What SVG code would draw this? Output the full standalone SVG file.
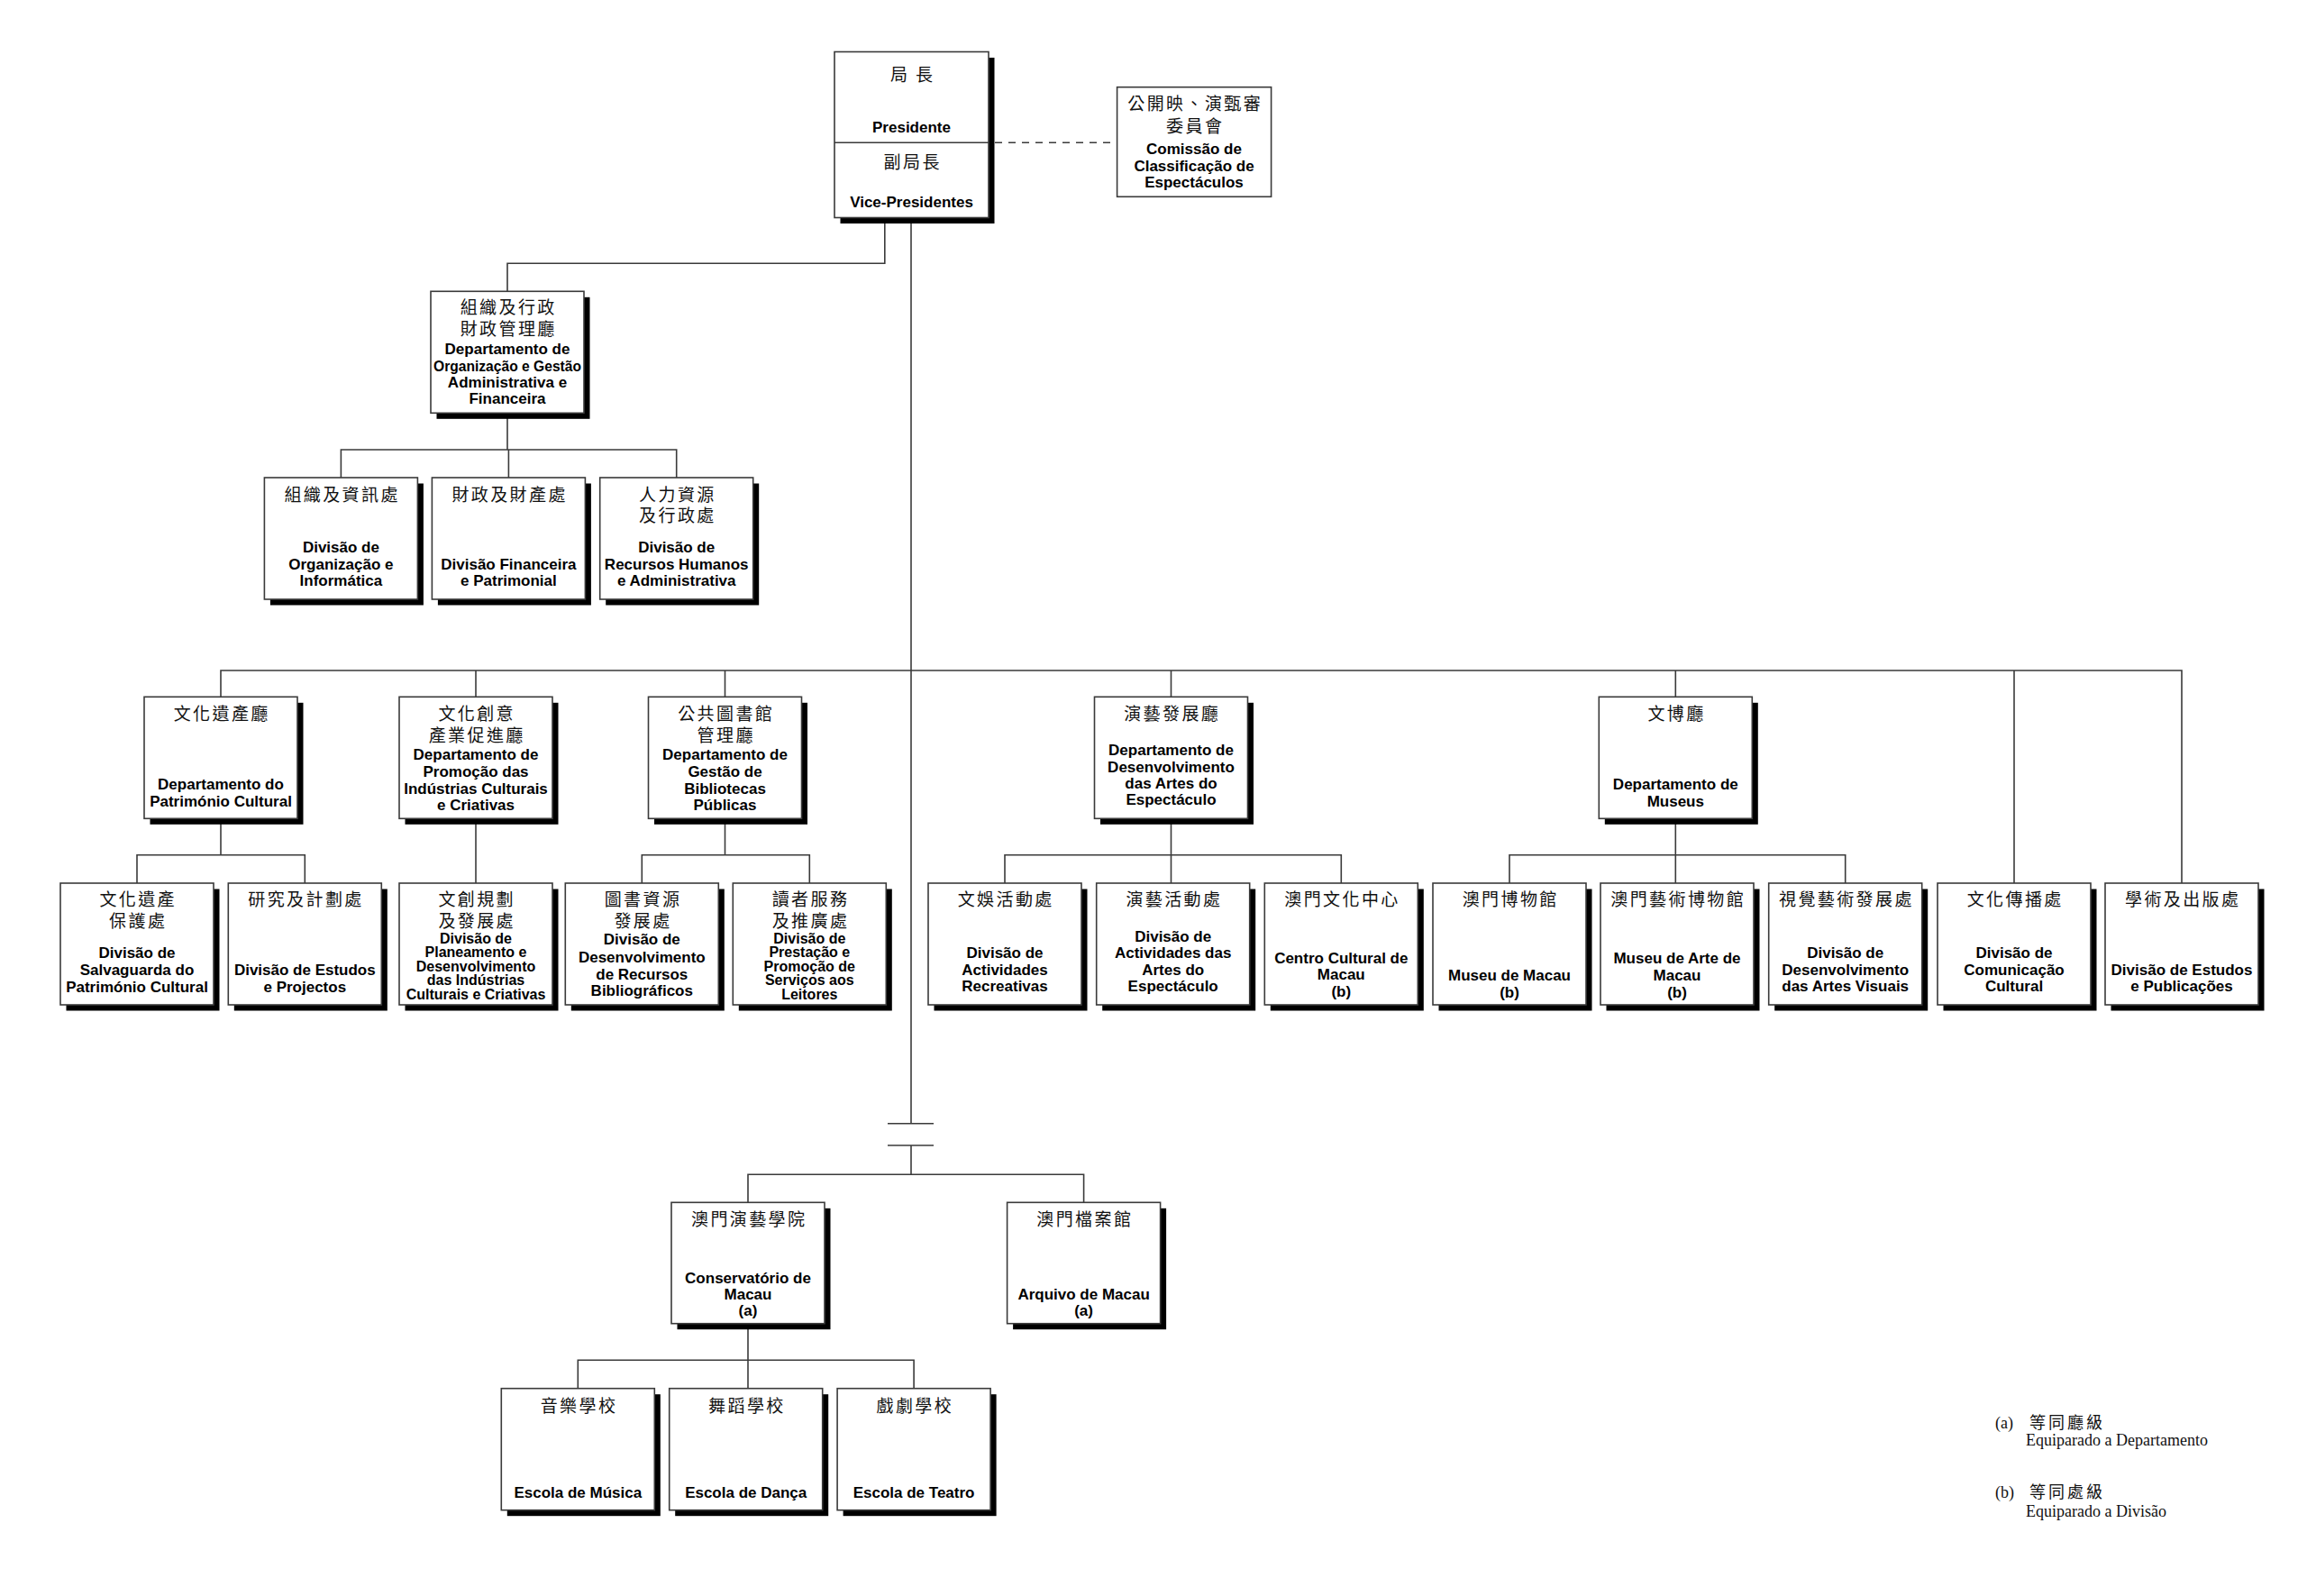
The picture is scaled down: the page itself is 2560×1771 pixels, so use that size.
<svg xmlns="http://www.w3.org/2000/svg" width="2560" height="1771" viewBox="0 0 2560 1771">
<style>
.bg{fill:#fff}
.sh{fill:#000}
.bx{fill:#fff;stroke:#3a3a3a;stroke-width:1.6}
.cn{fill:none;stroke:#3a3a3a;stroke-width:1.6}
.ds{fill:none;stroke:#3a3a3a;stroke-width:1.6;stroke-dasharray:8 7}
.zh{font-family:"Noto Sans CJK TC","Noto Sans CJK SC",sans-serif;font-size:19px;letter-spacing:2.4px;text-anchor:middle;fill:#111}
.pt{font-family:"Liberation Sans",Arial,sans-serif;font-weight:bold;font-size:17px;text-anchor:middle;fill:#000}
.s16{font-size:16px}
.lg{font-family:"Liberation Serif","Times New Roman",serif;font-size:18px;fill:#111}
.lz{font-family:"Noto Sans CJK TC","Noto Sans CJK SC",sans-serif;font-size:18px;letter-spacing:3px;fill:#111}
</style>
<rect class="bg" x="0" y="0" width="2560" height="1771"/>

<g id="connectors">
  <polyline class="cn" points="981.8,241.3 981.8,292.3 563,292.3 563,323.3"/>
  <line class="ds" x1="1104" y1="158.3" x2="1239.6" y2="158.3"/>
  <line class="cn" x1="1011" y1="241.3" x2="1011" y2="1246.7"/>
  <line class="cn" x1="985" y1="1246.7" x2="1036" y2="1246.7"/>
  <line class="cn" x1="985" y1="1271" x2="1036" y2="1271"/>
  <line class="cn" x1="1011" y1="1271" x2="1011" y2="1303.3"/>
  <!-- admin dept children -->
  <line class="cn" x1="563" y1="458.3" x2="563" y2="499"/>
  <polyline class="cn" points="378.4,530 378.4,499 750.7,499 750.7,530"/>
  <line class="cn" x1="564.4" y1="499" x2="564.4" y2="530"/>
  <!-- main horizontal -->
  <polyline class="cn" points="245,773.3 245,744 2421,744 2421,980"/>
  <line class="cn" x1="528" y1="744" x2="528" y2="773.3"/>
  <line class="cn" x1="804.5" y1="744" x2="804.5" y2="773.3"/>
  <line class="cn" x1="1299.5" y1="744" x2="1299.5" y2="773.3"/>
  <line class="cn" x1="1859.3" y1="744" x2="1859.3" y2="773.3"/>
  <line class="cn" x1="2235" y1="744" x2="2235" y2="980"/>
  <!-- dept1 -->
  <line class="cn" x1="245" y1="908.3" x2="245" y2="948.7"/>
  <polyline class="cn" points="152,980 152,948.7 338.3,948.7 338.3,980"/>
  <!-- dept2 -->
  <line class="cn" x1="528" y1="908.3" x2="528" y2="980"/>
  <!-- dept3 -->
  <line class="cn" x1="804.5" y1="908.3" x2="804.5" y2="948.7"/>
  <polyline class="cn" points="712.3,980 712.3,948.7 898.3,948.7 898.3,980"/>
  <!-- dept4 -->
  <line class="cn" x1="1299.5" y1="908.3" x2="1299.5" y2="980"/>
  <polyline class="cn" points="1115,980 1115,948.7 1488.3,948.7 1488.3,980"/>
  <!-- dept5 -->
  <line class="cn" x1="1859.3" y1="908.3" x2="1859.3" y2="980"/>
  <polyline class="cn" points="1675,980 1675,948.7 2047.7,948.7 2047.7,980"/>
  <!-- bottom -->
  <polyline class="cn" points="830,1334.3 830,1303.3 1202.6,1303.3 1202.6,1334.3"/>
  <line class="cn" x1="830" y1="1468.7" x2="830" y2="1540.7"/>
  <polyline class="cn" points="641.3,1540.7 641.3,1509.3 1014.1,1509.3 1014.1,1540.7"/>
</g>

<g id="president">
  <rect class="sh" x="932.5" y="64" width="171" height="184"/>
  <rect class="bx" x="926" y="57.5" width="171" height="184"/>
  <line class="cn" x1="926" y1="158.3" x2="1097" y2="158.3"/>
  <text class="zh" x="1012.7" y="90">局 長</text>
  <text class="pt" x="1011.5" y="146.7">Presidente</text>
  <text class="zh" x="1012.7" y="187">副局長</text>
  <text class="pt" x="1011.5" y="230">Vice-Presidentes</text>
</g>

<g id="commission">
  <rect class="bx" x="1239.6" y="96.7" width="171" height="121.6"/>
  <text class="zh" x="1326.2" y="122">公開映、演甄審</text>
  <text class="zh" x="1326.2" y="146.5">委員會</text>
  <text class="pt" x="1325" y="171">Comissão de</text>
  <text class="pt" x="1325" y="189.7">Classificação de</text>
  <text class="pt" x="1325" y="207.7">Espectáculos</text>
</g>

<g id="dept-admin">
  <rect class="sh" x="484.5" y="329.8" width="170" height="135"/>
  <rect class="bx" x="478" y="323.3" width="170" height="135"/>
  <text class="zh" x="564.2" y="348">組織及行政</text>
  <text class="zh" x="564.2" y="372">財政管理廳</text>
  <text class="pt" x="563" y="393.3">Departamento de</text>
  <text class="pt" x="563" y="411.7" textLength="164" lengthAdjust="spacingAndGlyphs">Organização e Gestão</text>
  <text class="pt" x="563" y="430">Administrativa e</text>
  <text class="pt" x="563" y="448.3">Financeira</text>
</g>

<g id="div-org-info">
  <rect class="sh" x="299.9" y="536.5" width="170" height="135"/>
  <rect class="bx" x="293.4" y="530" width="170" height="135"/>
  <text class="zh" x="379.6" y="555.5">組織及資訊處</text>
  <text class="pt" x="378.4" y="613">Divisão de</text>
  <text class="pt" x="378.4" y="631.7">Organização e</text>
  <text class="pt" x="378.4" y="650">Informática</text>
</g>

<g id="div-fin">
  <rect class="sh" x="485.9" y="536.5" width="170" height="135"/>
  <rect class="bx" x="479.4" y="530" width="170" height="135"/>
  <text class="zh" x="565.6" y="555.5">財政及財產處</text>
  <text class="pt" x="564.4" y="631.7">Divisão Financeira</text>
  <text class="pt" x="564.4" y="650">e Patrimonial</text>
</g>

<g id="div-hr">
  <rect class="sh" x="672.2" y="536.5" width="170" height="135"/>
  <rect class="bx" x="665.7" y="530" width="170" height="135"/>
  <text class="zh" x="751.9" y="555.5">人力資源</text>
  <text class="zh" x="751.9" y="579">及行政處</text>
  <text class="pt" x="750.7" y="613">Divisão de</text>
  <text class="pt" x="750.7" y="631.7">Recursos Humanos</text>
  <text class="pt" x="750.7" y="650">e Administrativa</text>
</g>

<g id="dept-heritage">
  <rect class="sh" x="166.5" y="779.8" width="170" height="135"/>
  <rect class="bx" x="160" y="773.3" width="170" height="135"/>
  <text class="zh" x="246.2" y="799">文化遺產廳</text>
  <text class="pt" x="245" y="876">Departamento do</text>
  <text class="pt" x="245" y="895">Património Cultural</text>
</g>

<g id="dept-creative">
  <rect class="sh" x="449.5" y="779.8" width="170" height="135"/>
  <rect class="bx" x="443" y="773.3" width="170" height="135"/>
  <text class="zh" x="529.2" y="799">文化創意</text>
  <text class="zh" x="529.2" y="823">產業促進廳</text>
  <text class="pt" x="528" y="843.3">Departamento de</text>
  <text class="pt" x="528" y="862.3">Promoção das</text>
  <text class="pt" x="528" y="880.7">Indústrias Culturais</text>
  <text class="pt" x="528" y="899">e Criativas</text>
</g>

<g id="dept-library">
  <rect class="sh" x="726" y="779.8" width="170" height="135"/>
  <rect class="bx" x="719.5" y="773.3" width="170" height="135"/>
  <text class="zh" x="805.7" y="799">公共圖書館</text>
  <text class="zh" x="805.7" y="823">管理廳</text>
  <text class="pt" x="804.5" y="843.3">Departamento de</text>
  <text class="pt" x="804.5" y="862.3">Gestão de</text>
  <text class="pt" x="804.5" y="880.7">Bibliotecas</text>
  <text class="pt" x="804.5" y="899">Públicas</text>
</g>

<g id="dept-performing">
  <rect class="sh" x="1221" y="779.8" width="170" height="135"/>
  <rect class="bx" x="1214.5" y="773.3" width="170" height="135"/>
  <text class="zh" x="1300.7" y="799">演藝發展廳</text>
  <text class="pt" x="1299.5" y="838.3">Departamento de</text>
  <text class="pt" x="1299.5" y="856.7">Desenvolvimento</text>
  <text class="pt" x="1299.5" y="875">das Artes do</text>
  <text class="pt" x="1299.5" y="893.3">Espectáculo</text>
</g>

<g id="dept-museums">
  <rect class="sh" x="1780.8" y="779.8" width="170" height="135"/>
  <rect class="bx" x="1774.3" y="773.3" width="170" height="135"/>
  <text class="zh" x="1860.5" y="799">文博廳</text>
  <text class="pt" x="1859.3" y="876">Departamento de</text>
  <text class="pt" x="1859.3" y="895">Museus</text>
</g>

<g id="div-safeguard">
  <rect class="sh" x="73.5" y="986.5" width="170" height="135"/>
  <rect class="bx" x="67" y="980" width="170" height="135"/>
  <text class="zh" x="153.2" y="1005">文化遺產</text>
  <text class="zh" x="153.2" y="1029">保護處</text>
  <text class="pt" x="152" y="1063.3">Divisão de</text>
  <text class="pt" x="152" y="1082.3">Salvaguarda do</text>
  <text class="pt" x="152" y="1100.7">Património Cultural</text>
</g>

<g id="div-studies-projects">
  <rect class="sh" x="259.8" y="986.5" width="170" height="135"/>
  <rect class="bx" x="253.3" y="980" width="170" height="135"/>
  <text class="zh" x="339.5" y="1005">研究及計劃處</text>
  <text class="pt" x="338.3" y="1082.3">Divisão de Estudos</text>
  <text class="pt" x="338.3" y="1100.7">e Projectos</text>
</g>

<g id="div-planning">
  <rect class="sh" x="449.5" y="986.5" width="170" height="135"/>
  <rect class="bx" x="443" y="980" width="170" height="135"/>
  <text class="zh" x="529.2" y="1005">文創規劃</text>
  <text class="zh" x="529.2" y="1029">及發展處</text>
  <text class="pt s16" x="528" y="1046.7">Divisão de</text>
  <text class="pt s16" x="528" y="1062.3">Planeamento e</text>
  <text class="pt s16" x="528" y="1077.7">Desenvolvimento</text>
  <text class="pt s16" x="528" y="1093.3">das Indústrias</text>
  <text class="pt s16" x="528" y="1109.3">Culturais e Criativas</text>
</g>

<g id="div-biblio">
  <rect class="sh" x="633.8" y="986.5" width="170" height="135"/>
  <rect class="bx" x="627.3" y="980" width="170" height="135"/>
  <text class="zh" x="713.5" y="1005">圖書資源</text>
  <text class="zh" x="713.5" y="1029">發展處</text>
  <text class="pt" x="712.3" y="1048.3">Divisão de</text>
  <text class="pt" x="712.3" y="1067.7">Desenvolvimento</text>
  <text class="pt" x="712.3" y="1086.7">de Recursos</text>
  <text class="pt" x="712.3" y="1105">Bibliográficos</text>
</g>

<g id="div-readers">
  <rect class="sh" x="819.8" y="986.5" width="170" height="135"/>
  <rect class="bx" x="813.3" y="980" width="170" height="135"/>
  <text class="zh" x="899.5" y="1005">讀者服務</text>
  <text class="zh" x="899.5" y="1029">及推廣處</text>
  <text class="pt s16" x="898.3" y="1046.7">Divisão de</text>
  <text class="pt s16" x="898.3" y="1062.3">Prestação e</text>
  <text class="pt s16" x="898.3" y="1077.7">Promoção de</text>
  <text class="pt s16" x="898.3" y="1093.3">Serviços aos</text>
  <text class="pt s16" x="898.3" y="1109.3">Leitores</text>
</g>

<g id="div-recreative">
  <rect class="sh" x="1036.5" y="986.5" width="170" height="135"/>
  <rect class="bx" x="1030" y="980" width="170" height="135"/>
  <text class="zh" x="1116.2" y="1005">文娛活動處</text>
  <text class="pt" x="1115" y="1063.3">Divisão de</text>
  <text class="pt" x="1115" y="1081.7">Actividades</text>
  <text class="pt" x="1115" y="1100">Recreativas</text>
</g>

<g id="div-performing">
  <rect class="sh" x="1223.2" y="986.5" width="170" height="135"/>
  <rect class="bx" x="1216.7" y="980" width="170" height="135"/>
  <text class="zh" x="1302.9" y="1005">演藝活動處</text>
  <text class="pt" x="1301.7" y="1045">Divisão de</text>
  <text class="pt" x="1301.7" y="1063.3">Actividades das</text>
  <text class="pt" x="1301.7" y="1081.7">Artes do</text>
  <text class="pt" x="1301.7" y="1100">Espectáculo</text>
</g>

<g id="div-cultural-centre">
  <rect class="sh" x="1409.8" y="986.5" width="170" height="135"/>
  <rect class="bx" x="1403.3" y="980" width="170" height="135"/>
  <text class="zh" x="1489.5" y="1005">澳門文化中心</text>
  <text class="pt" x="1488.3" y="1069.3">Centro Cultural de</text>
  <text class="pt" x="1488.3" y="1086.7">Macau</text>
  <text class="pt" x="1488.3" y="1106">(b)</text>
</g>

<g id="div-museum-macau">
  <rect class="sh" x="1596.5" y="986.5" width="170" height="135"/>
  <rect class="bx" x="1590" y="980" width="170" height="135"/>
  <text class="zh" x="1676.2" y="1005">澳門博物館</text>
  <text class="pt" x="1675" y="1088.3">Museu de Macau</text>
  <text class="pt" x="1675" y="1106.7">(b)</text>
</g>

<g id="div-art-museum">
  <rect class="sh" x="1782.5" y="986.5" width="170" height="135"/>
  <rect class="bx" x="1776" y="980" width="170" height="135"/>
  <text class="zh" x="1862.2" y="1005">澳門藝術博物館</text>
  <text class="pt" x="1861" y="1069.3">Museu de Arte de</text>
  <text class="pt" x="1861" y="1088.3">Macau</text>
  <text class="pt" x="1861" y="1106.7">(b)</text>
</g>

<g id="div-visual-arts">
  <rect class="sh" x="1969.2" y="986.5" width="170" height="135"/>
  <rect class="bx" x="1962.7" y="980" width="170" height="135"/>
  <text class="zh" x="2048.9" y="1005">視覺藝術發展處</text>
  <text class="pt" x="2047.7" y="1063.3">Divisão de</text>
  <text class="pt" x="2047.7" y="1081.7">Desenvolvimento</text>
  <text class="pt" x="2047.7" y="1100">das Artes Visuais</text>
</g>

<g id="div-communication">
  <rect class="sh" x="2156.5" y="986.5" width="170" height="135"/>
  <rect class="bx" x="2150" y="980" width="170" height="135"/>
  <text class="zh" x="2236.2" y="1005">文化傳播處</text>
  <text class="pt" x="2235" y="1063.3">Divisão de</text>
  <text class="pt" x="2235" y="1081.7">Comunicação</text>
  <text class="pt" x="2235" y="1100">Cultural</text>
</g>

<g id="div-publications">
  <rect class="sh" x="2342.5" y="986.5" width="170" height="135"/>
  <rect class="bx" x="2336" y="980" width="170" height="135"/>
  <text class="zh" x="2422.2" y="1005">學術及出版處</text>
  <text class="pt" x="2421" y="1081.7">Divisão de Estudos</text>
  <text class="pt" x="2421" y="1100">e Publicações</text>
</g>

<g id="conservatory">
  <rect class="sh" x="751.5" y="1340.8" width="170" height="134.4"/>
  <rect class="bx" x="745" y="1334.3" width="170" height="134.4"/>
  <text class="zh" x="831.2" y="1360">澳門演藝學院</text>
  <text class="pt" x="830" y="1424">Conservatório de</text>
  <text class="pt" x="830" y="1442.3">Macau</text>
  <text class="pt" x="830" y="1460">(a)</text>
</g>

<g id="archive">
  <rect class="sh" x="1124.1" y="1340.8" width="170" height="134.4"/>
  <rect class="bx" x="1117.6" y="1334.3" width="170" height="134.4"/>
  <text class="zh" x="1203.8" y="1360">澳門檔案館</text>
  <text class="pt" x="1202.6" y="1442.3">Arquivo de Macau</text>
  <text class="pt" x="1202.6" y="1460">(a)</text>
</g>

<g id="school-music">
  <rect class="sh" x="562.8" y="1547.2" width="170" height="135"/>
  <rect class="bx" x="556.3" y="1540.7" width="170" height="135"/>
  <text class="zh" x="642.5" y="1566.5">音樂學校</text>
  <text class="pt" x="641.3" y="1662.3">Escola de Música</text>
</g>

<g id="school-dance">
  <rect class="sh" x="749.2" y="1547.2" width="170" height="135"/>
  <rect class="bx" x="742.7" y="1540.7" width="170" height="135"/>
  <text class="zh" x="828.9" y="1566.5">舞蹈學校</text>
  <text class="pt" x="827.7" y="1662.3">Escola de Dança</text>
</g>

<g id="school-theatre">
  <rect class="sh" x="935.6" y="1547.2" width="170" height="135"/>
  <rect class="bx" x="929.1" y="1540.7" width="170" height="135"/>
  <text class="zh" x="1015.3" y="1566.5">戲劇學校</text>
  <text class="pt" x="1014.1" y="1662.3">Escola de Teatro</text>
</g>

<g id="legend">
  <text class="lg" x="2214" y="1585">(a)</text>
  <text class="lz" x="2252" y="1585">等同廳級</text>
  <text class="lg" x="2248" y="1604">Equiparado a Departamento</text>
  <text class="lg" x="2214" y="1661.7">(b)</text>
  <text class="lz" x="2252" y="1661.7">等同處級</text>
  <text class="lg" x="2248" y="1683.3">Equiparado a Divisão</text>
</g>
</svg>
